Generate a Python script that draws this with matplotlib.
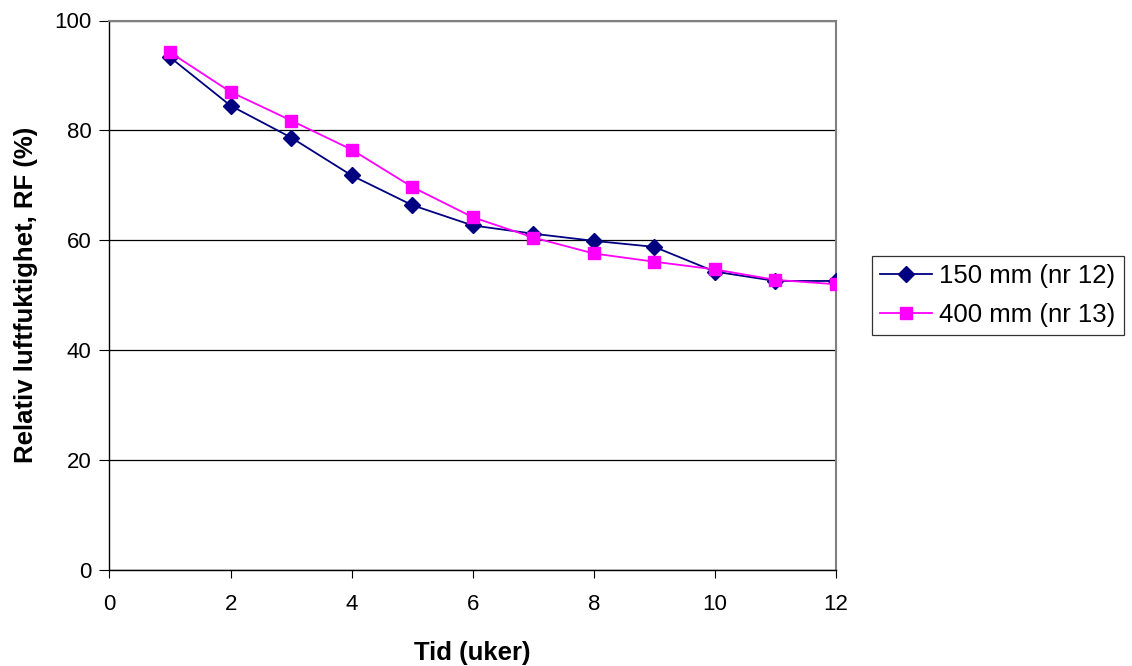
import matplotlib
matplotlib.use("Agg")
import matplotlib.pyplot as plt

weeks = [1, 2, 3, 4, 5, 6, 7, 8, 9, 10, 11, 12]
rf_150 = [93.3, 84.5, 78.7, 71.8, 66.4, 62.7, 61.2, 59.9, 58.8, 54.3, 52.6, 52.6]
rf_400 = [94.2, 87.0, 81.8, 76.5, 69.7, 64.2, 60.5, 57.6, 56.1, 54.7, 52.8, 52.0]
labels = ["150 mm (nr 12)", "400 mm (nr 13)"]
xticks = [0, 2, 4, 6, 8, 10, 12]
yticks = [0, 20, 40, 60, 80, 100]

plt.rcParams['font.family'] = ['Liberation Sans', 'DejaVu Sans']

W, H = 1132, 666
fig = plt.figure(figsize=(W / 100, H / 100), dpi=100)
ax = fig.add_axes([109.5 / W, 1 - 570 / H, (836 - 109.5) / W, (570 - 20.5) / H])

ax.plot(weeks, rf_150, color='#000080', marker='D', markersize=8, linewidth=1.3,
        label=labels[0], zorder=3)
ax.plot(weeks, rf_400, color='#FF00FF', marker='s', markersize=9, linewidth=1.3,
        label=labels[1], zorder=4)

ax.set_xlim(0, 12)
ax.set_ylim(0, 100)
ax.set_xticks(xticks)
ax.set_yticks(yticks)
ax.grid(axis='y', color='black', linewidth=0.9)
ax.set_axisbelow(True)
for s in ['top', 'right']:
    ax.spines[s].set_color('#808080')
    ax.spines[s].set_linewidth(1.5)
for s in ['left', 'bottom']:
    ax.spines[s].set_color('black')
    ax.spines[s].set_linewidth(1.0)
ax.tick_params(axis='both', direction='out', labelsize=16, color='black')
ax.tick_params(axis='y', length=7, pad=6)
ax.tick_params(axis='x', length=6, pad=11)

ax.set_xlabel('Tid (uker)', fontsize=18.5, fontweight='bold', labelpad=19)
ax.set_ylabel('Relativ luftfuktighet, RF (%)', fontsize=18.5, fontweight='bold', labelpad=12)

leg = ax.legend(loc='center left', bbox_to_anchor=(872 / W, 1 - 295.5 / H),
                bbox_transform=fig.transFigure, fontsize=18.5, frameon=True,
                fancybox=False, edgecolor='black', handlelength=2.0,
                borderpad=0.32, labelspacing=0.55, handletextpad=0.3, borderaxespad=0)
leg.get_frame().set_linewidth(0.9)

fig.savefig('out.png', dpi=100)
